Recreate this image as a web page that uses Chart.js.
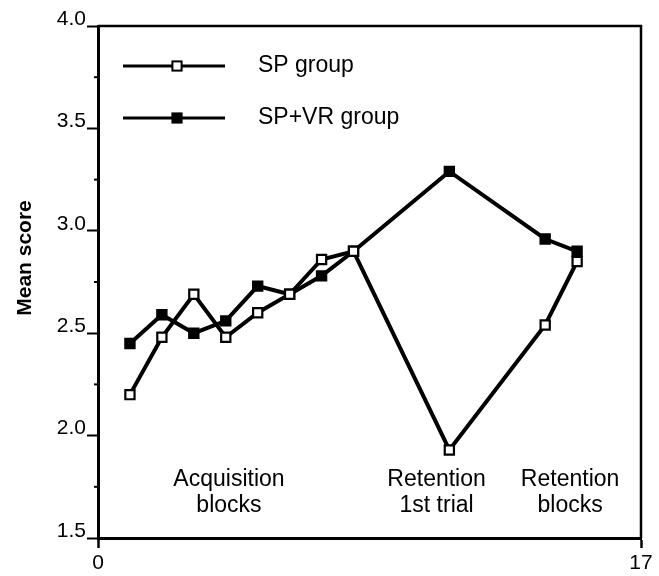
<!DOCTYPE html>
<html>
<head>
<meta charset="utf-8">
<style>
  html, body { margin: 0; padding: 0; background: #fff; }
  #wrap { width: 659px; height: 576px; position: relative; }
</style>
<script src="https://cdn.jsdelivr.net/npm/chart.js@4.4.1/dist/chart.umd.min.js"></script>
</head>
<body>
<div id="wrap"><canvas id="c" width="659" height="576"></canvas></div>
<script>
// ---- data ----
const blockX = [1, 2, 3, 4, 5, 6, 7, 8, 11, 14, 15];
const spGroup = [2.20, 2.48, 2.69, 2.48, 2.60, 2.69, 2.86, 2.90, 1.93, 2.54, 2.85];
const spVrGroup = [2.45, 2.59, 2.50, 2.56, 2.73, 2.69, 2.78, 2.90, 3.29, 2.96, 2.90];
const seriesNames = ['SP group', 'SP+VR group'];
const xTickValues = [0, 17];
const yAxisTitle = 'Mean score';
const phaseLabels = [
  ['Acquisition', 'blocks'],
  ['Retention', '1st trial'],
  ['Retention', 'blocks']
];
const phaseLabelX = [4.1, 10.6, 14.78];

const FONT = '"Liberation Sans", Arial, sans-serif';

const toPoints = (xs, ys) => xs.map((x, i) => ({ x: x, y: ys[i] }));

const decor = {
  id: 'decor',
  afterDraw(chart) {
    const ctx = chart.ctx;
    const a = chart.chartArea;
    const xs = chart.scales.x, ys = chart.scales.y;
    ctx.save();
    // top and right frame
    ctx.strokeStyle = '#000';
    ctx.lineWidth = 2.5;
    ctx.beginPath();
    ctx.moveTo(a.left, a.top);
    ctx.lineTo(a.right, a.top);
    ctx.lineTo(a.right, a.bottom);
    ctx.stroke();
    // minor y ticks
    ctx.lineWidth = 2;
    for (let v = 1.75; v < 4; v += 0.5) {
      const py = ys.getPixelForValue(v);
      ctx.beginPath();
      ctx.moveTo(a.left - 4, py);
      ctx.lineTo(a.left, py);
      ctx.stroke();
    }
    // y axis title
    ctx.fillStyle = '#000';
    ctx.font = 'bold 21px ' + FONT;
    ctx.textAlign = 'center';
    ctx.textBaseline = 'middle';
    ctx.translate(25, 258);
    ctx.rotate(-Math.PI / 2);
    ctx.fillText(yAxisTitle, 0, 0);
    ctx.restore();

    // phase labels
    ctx.save();
    ctx.fillStyle = '#000';
    ctx.font = '23px ' + FONT;
    ctx.textAlign = 'center';
    ctx.textBaseline = 'middle';
    phaseLabels.forEach((lines, i) => {
      const px = xs.getPixelForValue(phaseLabelX[i]);
      lines.forEach((t, j) => {
        ctx.fillText(t, px, 480 + j * 26);
      });
    });
    ctx.restore();

    // legend
    ctx.save();
    chart.data.datasets.forEach((ds, i) => {
      const ly = a.top + 40 + i * 52;
      const x0 = a.left + 25, x1 = a.left + 127, mx = a.left + 79;
      ctx.strokeStyle = '#000';
      ctx.lineWidth = 3;
      ctx.beginPath();
      ctx.moveTo(x0, ly);
      ctx.lineTo(x1, ly);
      ctx.stroke();
      ctx.fillStyle = ds.pointBackgroundColor;
      ctx.strokeStyle = '#000';
      ctx.lineWidth = 2;
      const s = 6.5 * Math.SQRT1_2;
      ctx.fillRect(mx - s, ly - s, 2 * s, 2 * s);
      ctx.strokeRect(mx - s, ly - s, 2 * s, 2 * s);
      ctx.fillStyle = '#000';
      ctx.font = '23px ' + FONT;
      ctx.textAlign = 'left';
      ctx.textBaseline = 'middle';
      ctx.fillText(ds.label, a.left + 160, ly);
    });
    ctx.restore();
  }
};

new Chart(document.getElementById('c'), {
  type: 'line',
  data: {
    datasets: [
      {
        label: seriesNames[0],
        data: toPoints(blockX, spGroup),
        borderColor: '#000',
        borderWidth: 4,
        pointStyle: 'rect',
        pointRadius: 6.5,
        pointBorderWidth: 2.2,
        pointBorderColor: '#000',
        pointBackgroundColor: '#fff',
        tension: 0,
        order: 0
      },
      {
        label: seriesNames[1],
        data: toPoints(blockX, spVrGroup),
        borderColor: '#000',
        borderWidth: 4,
        pointStyle: 'rect',
        pointRadius: 6.5,
        pointBorderWidth: 2.2,
        pointBorderColor: '#000',
        pointBackgroundColor: '#000',
        tension: 0,
        order: 1
      }
    ]
  },
  options: {
    responsive: false,
    animation: false,
    events: [],
    layout: { padding: { left: 0, right: 18, top: 26, bottom: 0 } },
    plugins: { legend: { display: false }, tooltip: { enabled: false } },
    scales: {
      x: {
        type: 'linear',
        min: 0, max: 17,
        afterBuildTicks: (s) => { s.ticks = xTickValues.map(v => ({ value: v })); },
        afterFit: (s) => { s.height = 38; },
        border: { display: true, color: '#000', width: 3 },
        grid: { drawOnChartArea: false, drawTicks: true, tickLength: 10, tickWidth: 2.5, tickColor: '#000' },
        ticks: { color: '#000', font: { family: FONT, size: 21 }, padding: 3, maxRotation: 0, autoSkip: false }
      },
      y: {
        type: 'linear',
        min: 1.5, max: 4.0,
        afterBuildTicks: (s) => {
          const t = [];
          for (let v = 1.5; v <= 4.0001; v += 0.5) t.push({ value: Math.round(v * 10) / 10 });
          s.ticks = t;
        },
        afterFit: (s) => { s.width = 98; },
        border: { display: true, color: '#000', width: 3 },
        grid: { drawOnChartArea: false, drawTicks: true, tickLength: 11, tickWidth: 2, tickColor: '#000' },
        ticks: {
          color: '#000', font: { family: FONT, size: 21 }, padding: 1, labelOffset: -7,
          callback: (v) => Number(v).toFixed(1)
        }
      }
    }
  },
  plugins: [decor]
});
</script>
</body>
</html>
